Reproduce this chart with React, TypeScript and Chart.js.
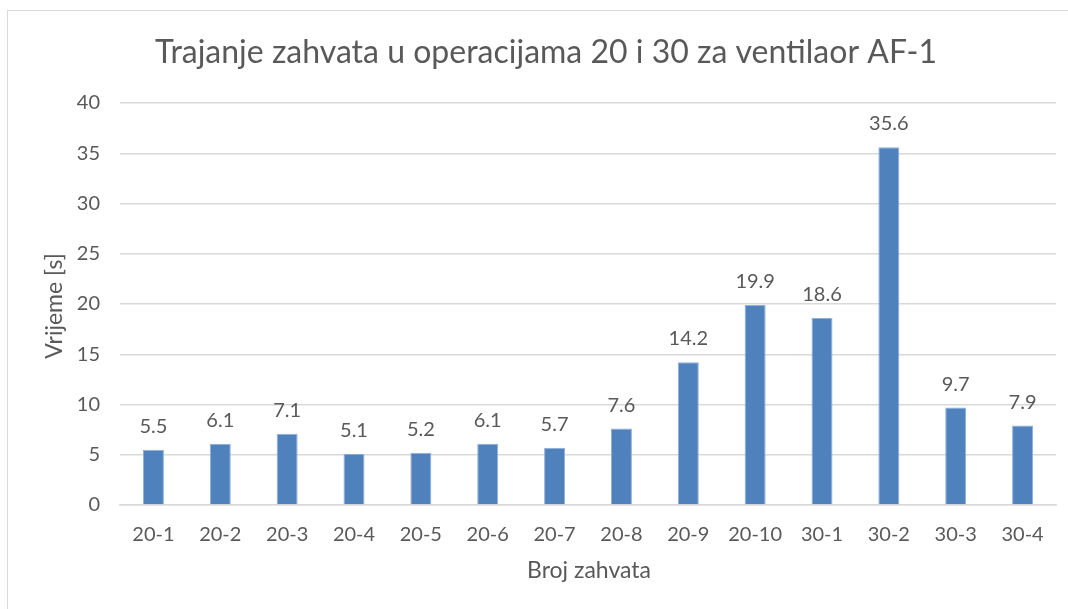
import React, { useEffect, useRef } from "react";
import { Chart, registerables } from "chart.js";

Chart.register(...registerables);

const categories = ["20-1", "20-2", "20-3", "20-4", "20-5", "20-6", "20-7", "20-8", "20-9", "20-10", "30-1", "30-2", "30-3", "30-4"];
const values = [5.5, 6.1, 7.1, 5.1, 5.2, 6.1, 5.7, 7.6, 14.2, 19.9, 18.6, 35.6, 9.7, 7.9];
const yTicks = [0, 5, 10, 15, 20, 25, 30, 35, 40];
const titleText = "Trajanje zahvata u operacijama 20 i 30 za ventilaor AF-1";
const xTitle = "Broj zahvata";
const yTitle = "Vrijeme [s]";

const FONT = "Lato, 'Open Sans', sans-serif";
const TEXT = "#595959";

const overlayPlugin = {
  id: "overlay",
  afterDatasetsDraw(chart: any) {
    const ctx = chart.ctx;
    const area = chart.chartArea;
    ctx.save();
    ctx.fillStyle = TEXT;
    // data labels
    ctx.font = `20px ${FONT}`;
    ctx.textAlign = "center";
    ctx.textBaseline = "alphabetic";
    const meta = chart.getDatasetMeta(0);
    meta.data.forEach((bar: any, i: number) => {
      ctx.fillText(values[i].toFixed(1), bar.x, bar.y - 17);
    });
    // title
    ctx.font = `32px ${FONT}`;
    ctx.textBaseline = "middle";
    ctx.fillText(titleText, 546, 53);
    // x title
    ctx.font = `23px ${FONT}`;
    ctx.fillText(xTitle, 589, 571);
    // y title
    ctx.translate(55, 306);
    ctx.rotate(-Math.PI / 2);
    ctx.fillText(yTitle, 0, 0);
    ctx.restore();
  },
};

export default function App() {
  const ref = useRef<HTMLCanvasElement>(null);
  useEffect(() => {
    const chart = new Chart(ref.current!, {
      type: "bar",
      data: {
        labels: categories,
        datasets: [
          {
            data: values,
            backgroundColor: "#4f81bd",
            borderColor: "#8eb0da",
            borderWidth: 1,
            barPercentage: 0.314,
            categoryPercentage: 1,
          },
        ],
      },
      options: {
        animation: false,
        responsive: false,
        layout: { padding: { left: 0, right: 12, top: 103, bottom: 0 } },
        plugins: { legend: { display: false }, tooltip: { enabled: false }, title: { display: false } },
        scales: {
          x: {
            grid: { display: false, drawTicks: false },
            border: { display: true, color: "#d9d9d9", width: 1.5 },
            ticks: { color: TEXT, font: { family: FONT, size: 20 }, padding: 18, maxRotation: 0, autoSkip: false },
            afterFit(scale: any) {
              scale.height = 104;
            },
          },
          y: {
            min: 0,
            max: 40,
            afterBuildTicks(scale: any) {
              scale.ticks = yTicks.map((v) => ({ value: v }));
            },
            grid: { color: "#d9d9d9", lineWidth: 1.5, drawTicks: false },
            border: { display: false },
            ticks: { color: TEXT, font: { family: FONT, size: 20 }, padding: 20 },
            afterFit(scale: any) {
              scale.width = 120;
            },
          },
        },
      },
      plugins: [overlayPlugin],
    });
    return () => chart.destroy();
  }, []);
  return (
    <div style={{ position: "fixed", left: 0, top: 0, width: 1068, height: 609, overflow: "hidden", background: "#fff" }}>
      <div
        style={{
          position: "absolute",
          left: 7,
          top: 10,
          width: 1100,
          height: 700,
          borderLeft: "1.5px solid #d9d9d9",
          borderTop: "1.5px solid #d9d9d9",
        }}
      />
      <canvas ref={ref} width={1068} height={609} style={{ position: "absolute", left: 0, top: 0, display: "block" }} />
    </div>
  );
}
